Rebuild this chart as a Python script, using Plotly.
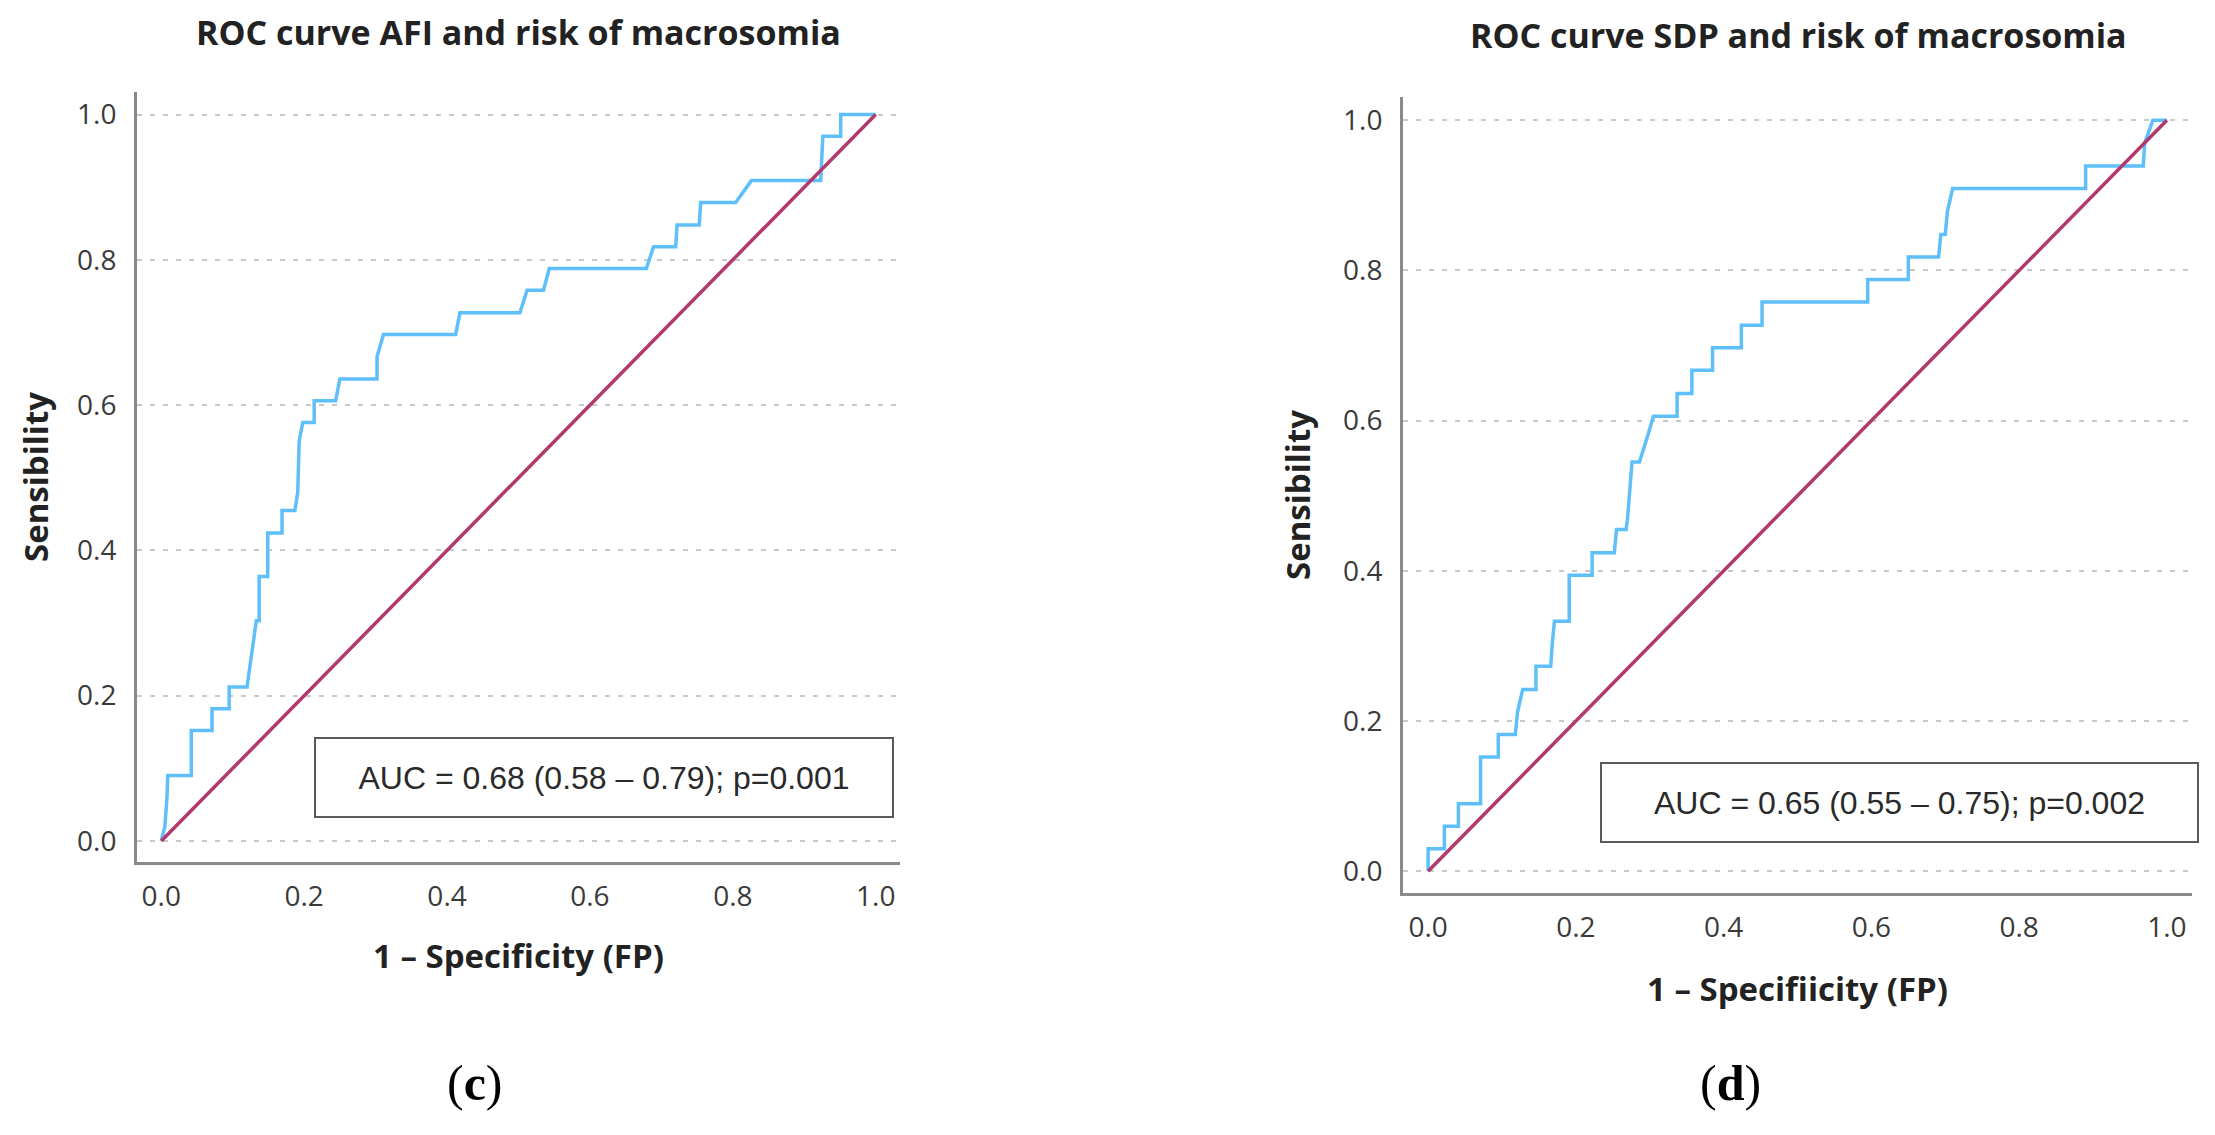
import plotly.graph_objects as go

W, H = 2215, 1135

# ROC curve (c): AFI
afi_fpr = [0, 0.005, 0.008, 0.009, 0.042, 0.042, 0.071, 0.071, 0.095, 0.095, 0.120, 0.133, 0.137, 0.137,
           0.149, 0.149, 0.169, 0.169, 0.187, 0.191, 0.193, 0.198, 0.214, 0.214, 0.244, 0.250, 0.302, 0.302,
           0.311, 0.412, 0.418, 0.502, 0.512, 0.535, 0.543, 0.679, 0.689, 0.720, 0.722, 0.753, 0.755, 0.804,
           0.826, 0.923, 0.926, 0.951, 0.951, 1.0]
afi_tpr = [0, 0.02, 0.06, 0.09, 0.09, 0.152, 0.152, 0.182, 0.182, 0.212, 0.212, 0.303, 0.303, 0.364,
           0.364, 0.424, 0.424, 0.455, 0.455, 0.48, 0.55, 0.576, 0.576, 0.606, 0.606, 0.636, 0.636, 0.667,
           0.697, 0.697, 0.727, 0.727, 0.758, 0.758, 0.788, 0.788, 0.818, 0.818, 0.848, 0.848, 0.879, 0.879,
           0.909, 0.909, 0.97, 0.97, 1.0, 1.0]

# ROC curve (d): SDP
sdp_fpr = [0, 0, 0.022, 0.022, 0.041, 0.041, 0.071, 0.071, 0.095, 0.095, 0.118, 0.121, 0.128, 0.146,
           0.146, 0.166, 0.168, 0.171, 0.191, 0.191, 0.222, 0.222, 0.252, 0.255, 0.268, 0.270, 0.276, 0.286,
           0.296, 0.305, 0.337, 0.337, 0.357, 0.357, 0.385, 0.385, 0.424, 0.424, 0.452, 0.452, 0.595, 0.595,
           0.650, 0.650, 0.691, 0.694, 0.700, 0.703, 0.710, 0.890, 0.890, 0.968, 0.970, 0.981, 1.0]
sdp_tpr = [0, 0.03, 0.03, 0.06, 0.06, 0.09, 0.09, 0.152, 0.152, 0.182, 0.182, 0.212, 0.242, 0.242,
           0.273, 0.273, 0.303, 0.333, 0.333, 0.394, 0.394, 0.424, 0.424, 0.455, 0.455, 0.47, 0.545, 0.545,
           0.576, 0.606, 0.606, 0.636, 0.636, 0.667, 0.667, 0.697, 0.697, 0.727, 0.727, 0.758, 0.758, 0.788,
           0.788, 0.818, 0.818, 0.848, 0.848, 0.879, 0.909, 0.909, 0.939, 0.939, 0.970, 1.0, 1.0]

ref_line = [0, 1]
ticks = [0, 0.2, 0.4, 0.6, 0.8, 1.0]
tick_labels = ["0.0", "0.2", "0.4", "0.6", "0.8", "1.0"]

titles = ["ROC curve AFI and risk of macrosomia", "ROC curve SDP and risk of macrosomia"]
x_titles = ["1 \u2013 Specificity (FP)", "1 \u2013 Specifiicity (FP)"]
y_title = "Sensibility"
auc_texts = ["AUC = 0.68 (0.58 \u2013 0.79); p=0.001", "AUC = 0.65 (0.55 \u2013 0.75); p=0.002"]
panel_labels = ["c", "d"]

BLUE = "#5ebffa"
RED = "#b2396c"
AXIS = "#8a8a8a"
GRID = "#c8c8c8"
FONT = "Open Sans"


def px(x):
    return x / W


def py(y):
    return 1 - y / H


fig = go.Figure()

curves = [(afi_fpr, afi_tpr), (sdp_fpr, sdp_tpr)]
for i, (fx, fy) in enumerate(curves):
    xa = "x" if i == 0 else "x2"
    ya = "y" if i == 0 else "y2"
    fig.add_trace(go.Scatter(x=fx, y=fy, mode="lines", line=dict(color=BLUE, width=3.5),
                             xaxis=xa, yaxis=ya, showlegend=False))
    fig.add_trace(go.Scatter(x=ref_line, y=ref_line, mode="lines", line=dict(color=RED, width=3.5),
                             xaxis=xa, yaxis=ya, showlegend=False))

axis_common = dict(
    tickvals=ticks, ticktext=tick_labels, showline=True, linecolor=AXIS, linewidth=3,
    ticks="", zeroline=False, tickfont=dict(family=FONT, size=28, color="#3a3a3a"),
    fixedrange=True,
)

# panel geometry in pixels: (left, right, top, bottom)
panels = [(137, 900, 92, 862), (1403, 2192, 97, 893)]

layout_axes = {}
for i, (l, r, t, b) in enumerate(panels):
    sx = "" if i == 0 else "2"
    layout_axes["xaxis" + sx] = dict(
        axis_common, domain=[px(l), px(r)], range=[-0.034, 1.034], showgrid=False,
        anchor="y" + sx, ticklabelstandoff=7,
    )
    layout_axes["yaxis" + sx] = dict(
        axis_common, domain=[py(b), py(t)], range=[-0.029, 1.031], showgrid=True,
        gridcolor=GRID, gridwidth=2, griddash="5px,8px", anchor="x" + sx, ticklabelstandoff=12,
    )

fig.update_layout(
    width=W, height=H, margin=dict(l=0, r=0, t=0, b=0),
    paper_bgcolor="white", plot_bgcolor="white",
    **layout_axes,
)

annotations = []
title_pos = [(518, 32), (1798, 35)]
xt_pos = [(518, 955), (1797, 988)]
yt_pos = [(35, 477), (1297, 495)]
auc_box = [(314, 894, 737, 818), (1600, 2199, 762, 843)]
label_pos = [(475, 1083), (1730, 1083)]

for i in range(2):
    annotations.append(dict(
        text="<b>%s</b>" % titles[i], x=px(title_pos[i][0]), y=py(title_pos[i][1]),
        xref="paper", yref="paper", showarrow=False, xanchor="center", yanchor="middle",
        font=dict(family=FONT, size=34, color="#222222"),
    ))
    annotations.append(dict(
        text="<b>%s</b>" % x_titles[i], x=px(xt_pos[i][0]), y=py(xt_pos[i][1]),
        xref="paper", yref="paper", showarrow=False, xanchor="center", yanchor="middle",
        font=dict(family=FONT, size=33, color="#222222"),
    ))
    annotations.append(dict(
        text="<b>%s</b>" % y_title, x=px(yt_pos[i][0]), y=py(yt_pos[i][1]), textangle=-90,
        xref="paper", yref="paper", showarrow=False, xanchor="center", yanchor="middle",
        font=dict(family=FONT, size=33, color="#222222"),
    ))
    l, r, t, b = auc_box[i]
    annotations.append(dict(
        text=auc_texts[i], x=px((l + r) / 2), y=py((t + b) / 2),
        xref="paper", yref="paper", showarrow=False, xanchor="center", yanchor="middle",
        width=r - l - 4, height=b - t - 4, bordercolor="#5a5a5a", borderwidth=2, borderpad=0,
        bgcolor="white", align="center",
        font=dict(family="Liberation Sans", size=32, color="#2a2a2a"),
    ))
    annotations.append(dict(
        text="(<b>%s</b>)" % panel_labels[i], x=px(label_pos[i][0]), y=py(label_pos[i][1]),
        xref="paper", yref="paper", showarrow=False, xanchor="center", yanchor="middle",
        font=dict(family="Liberation Serif", size=50, color="#000000"),
    ))

fig.update_layout(annotations=annotations)

# the default page body has an 8px margin; drop it so the figure sits at the window origin
fig.write_html("out.html", config={"displayModeBar": False},
               post_script="document.body.style.margin='0px';")
